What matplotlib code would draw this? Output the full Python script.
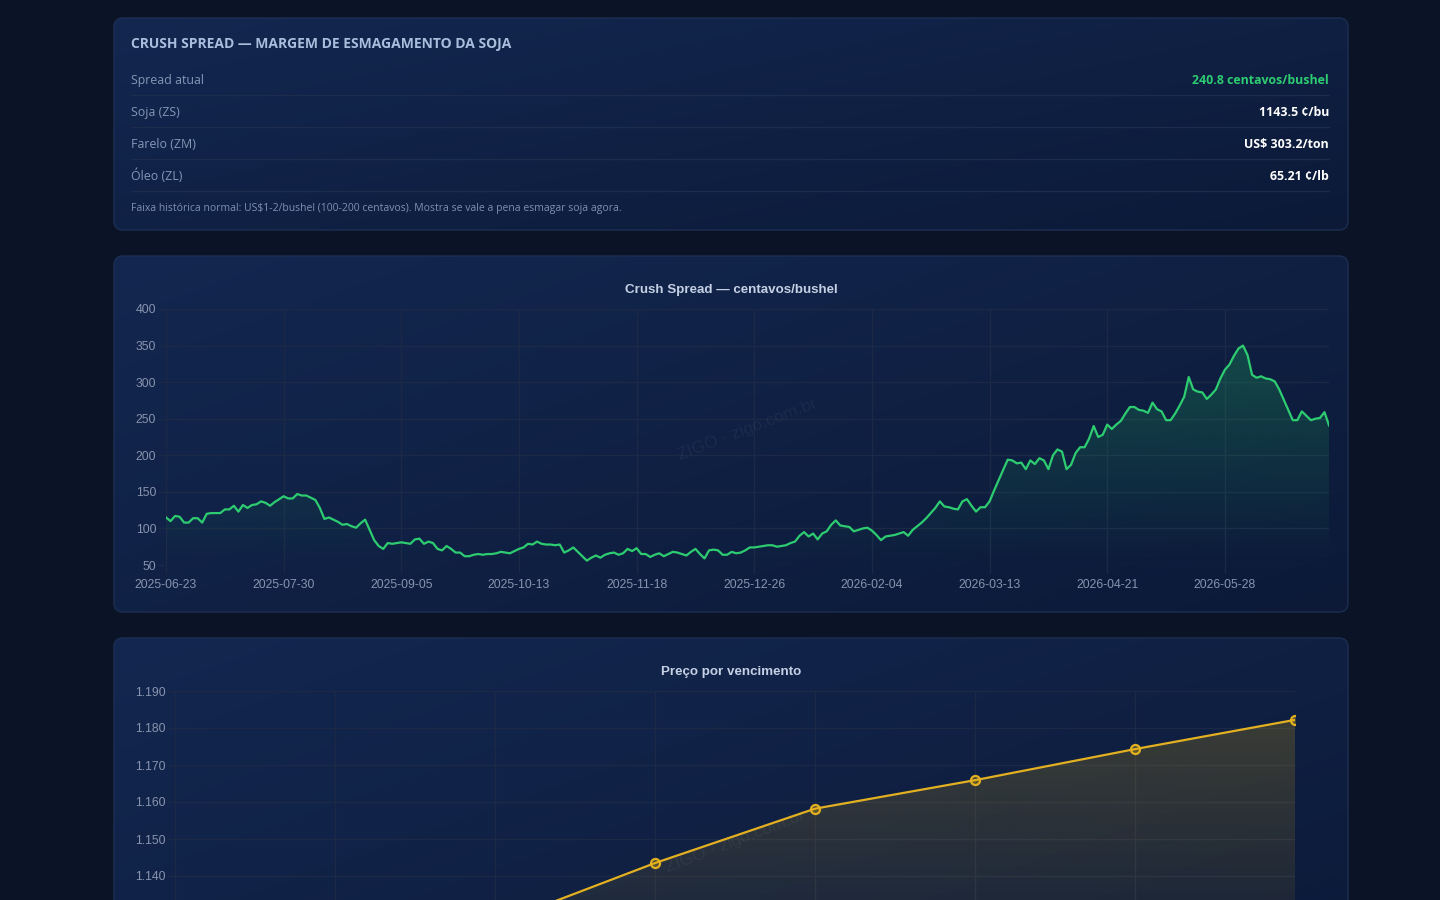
import numpy as np
import pandas as pd
import matplotlib
matplotlib.use("Agg")
import matplotlib.pyplot as plt
from matplotlib.patches import FancyBboxPatch, Polygon
from matplotlib.colors import to_rgba
from pandas.tseries.offsets import CustomBusinessDay

# ---------------- data ----------------
spread = [
    115, 110, 117, 116, 108, 108, 114, 114, 108, 120,
    121, 121, 121, 126, 126, 131, 123, 132, 128, 132,
    133, 137, 135, 131, 136, 140, 144, 141, 141, 147,
    145, 145, 142, 139, 128, 113, 115, 112, 109, 105,
    106, 103, 101, 107, 112, 98, 84, 76, 72, 80,
    79, 80, 81, 80, 79, 85, 86, 79, 82, 80,
    72, 70, 76, 72, 67, 67, 62, 62, 64, 65,
    64, 65, 65, 66, 68, 67, 66, 69, 72, 74,
    79, 78, 82, 79, 78, 78, 77, 78, 67, 70,
    74, 68, 62, 56, 60, 63, 60, 64, 66, 67,
    64, 66, 72, 69, 73, 65, 65, 61, 64, 66,
    62, 65, 68, 67, 65, 63, 68, 72, 65, 59,
    70, 71, 70, 64, 64, 68, 66, 67, 70, 74,
    74, 75, 76, 77, 77, 75, 76, 77, 80, 82,
    90, 95, 89, 93, 85, 93, 96, 105, 111, 104,
    103, 102, 96, 98, 100, 101, 97, 91, 84, 89,
    90, 91, 93, 95, 90, 98, 103, 108, 114, 121,
    128, 137, 130, 129, 127, 126, 137, 140, 131, 123,
    129, 129, 137, 152, 166, 180, 194, 193, 189, 190,
    181, 193, 188, 196, 193, 181, 200, 208, 205, 181,
    187, 203, 211, 211, 223, 240, 225, 228, 242, 236,
    242, 247, 257, 266, 266, 262, 261, 258, 272, 263,
    260, 248, 248, 257, 268, 280, 307, 290, 287, 286,
    277, 283, 290, 305, 317, 324, 336, 346, 350, 337,
    310, 306, 308, 305, 304, 301, 290, 276, 262, 248,
    248, 260, 254, 248, 250, 251, 259, 240.8,
]
cme_holidays = ['2025-07-04', '2025-09-01', '2025-11-27', '2025-12-25',
                '2026-01-01', '2026-01-19', '2026-02-16', '2026-04-03',
                '2026-05-25', '2026-06-19']
start_date = '2025-06-23'

maturities = ['Jul/25', 'Ago/25', 'Set/25', 'Nov/25', 'Jan/26', 'Mar/26', 'Mai/26', 'Jul/26']
maturity_prices = [1112.0, 1119.5, 1127.0, 1143.5, 1158.2, 1165.9, 1174.3, 1182.2]

info_labels = ['Spread atual', 'Soja (ZS)', 'Farelo (ZM)', 'Óleo (ZL)']
info_values = ['240.8 centavos/bushel', '1143.5 ¢/bu', 'US$ 303.2/ton', '65.21 ¢/lb']
info_colors = ['#2ecc71', '#ffffff', '#ffffff', '#ffffff']

dates = pd.date_range(start_date, periods=len(spread),
                      freq=CustomBusinessDay(holidays=cme_holidays)).strftime('%Y-%m-%d')

# ---------------- figure ----------------
W, H = 1440, 900
fig = plt.figure(figsize=(W / 100, H / 100), dpi=100)
fig.patch.set_facecolor('#0a1426')

bg = fig.add_axes([0, 0, 1, 1])
bg.set_zorder(0)
bg.axis('off')

SANS_UI = ['Open Sans', 'DejaVu Sans']
SANS_CH = ['Liberation Sans', 'DejaVu Sans']


def card(x0, y0, x1, y1):
    p = FancyBboxPatch((x0, y0), x1 - x0, y1 - y0,
                       boxstyle="round,pad=0,rounding_size=9",
                       fc='none', ec='#1c2e52', lw=1.0, zorder=3)
    bg.add_patch(p)
    nx, ny = 200, 100
    gx = np.linspace(0, 1, nx)[None, :]
    gy = np.linspace(0, 1, ny)[:, None]
    t = np.clip(0.55 * gx + 0.45 * gy, 0, 1)
    c0 = np.array(to_rgba('#132750'))
    c1 = np.array(to_rgba('#0c1a38'))
    img = c0[None, None, :] * (1 - t[..., None]) + c1[None, None, :] * t[..., None]
    im = bg.imshow(img, extent=(x0, x1, y1, y0), origin='upper',
                   aspect='auto', zorder=1, interpolation='bilinear')
    im.set_clip_path(p)


card(114, 18, 1348, 230)
card(114, 256, 1348, 612)
card(114, 638, 1348, 994)
bg.set_xlim(0, W)
bg.set_ylim(H, 0)

# ---------------- info card ----------------
bg.text(131, 44, 'CRUSH SPREAD — MARGEM DE ESMAGAMENTO DA SOJA', fontsize=10.0,
        fontweight='bold', color='#a9bddd', ha='left', va='center', family=SANS_UI, zorder=5)
row_y = [79, 111, 143, 175]
for lab, val, col, yy in zip(info_labels, info_values, info_colors, row_y):
    bg.text(131, yy + 4.6, lab, fontsize=8.9, color='#8597b6', ha='left', va='baseline',
            family=SANS_UI, zorder=5)
    bg.text(1329, yy + 4.6, val, fontsize=8.9, color=col, fontweight='bold', ha='right',
            va='baseline', family=SANS_UI, zorder=5)
    bg.plot([131, 1329], [yy + 16, yy + 16], color='#1b2c4c', lw=1, zorder=4)
bg.text(131, 208, 'Faixa histórica normal: US$1-2/bushel (100-200 centavos). Mostra se vale a pena esmagar soja agora.',
        fontsize=7.5, color='#7d90b3', ha='left', va='center', family=SANS_UI, zorder=5)

GRID = '#1b2947'
TICKC = '#8894ae'


def px_axes(x0, y0, x1, y1):
    ax = fig.add_axes([x0 / W, 1 - y1 / H, (x1 - x0) / W, (y1 - y0) / H])
    ax.set_facecolor('none')
    ax.set_zorder(2)
    for s in ax.spines.values():
        s.set_visible(False)
    ax.tick_params(colors=GRID, length=5.8, width=1, labelcolor=TICKC, labelsize=8.8)
    ax.tick_params(axis='x', pad=4.0)
    ax.tick_params(axis='y', pad=1.2)
    ax.grid(True, color=GRID, lw=1)
    ax.set_axisbelow(True)
    return ax


def gradient_fill(ax, x, y, base, color, a_top, a_bot, ytop):
    verts = [(x[0], base)] + list(zip(x, y)) + [(x[-1], base)]
    poly = Polygon(verts, closed=True, fc='none', ec='none')
    ax.add_patch(poly)
    n = 256
    alpha = np.linspace(a_top, a_bot, n)[:, None]
    rgb = np.array(to_rgba(color))[:3]
    img = np.zeros((n, 1, 4))
    img[..., :3] = rgb
    img[..., 3] = alpha
    im = ax.imshow(img, extent=(x[0], x[-1], base, ytop), origin='upper',
                   aspect='auto', zorder=1, interpolation='bilinear')
    im.set_clip_path(poly)


def title_at(y, text):
    bg.text(731, y, text, fontsize=9.6, fontweight='bold', color='#c5d0e4',
            ha='center', va='center', family=SANS_CH, zorder=5)


# ---------------- chart 1 ----------------
ax1 = px_axes(166, 309, 1329, 565)
xi = np.arange(len(spread))
gradient_fill(ax1, xi, np.array(spread, float), 50, '#22c55e', 0.30, 0.0, 400)
ax1.plot(xi, spread, color='#2ecc71', lw=1.6, zorder=3, solid_joinstyle='round')
ax1.set_xlim(0, len(spread) - 1)
ax1.set_ylim(50, 400)
ax1.set_yticks([50, 100, 150, 200, 250, 300, 350, 400])
tick_idx = list(range(0, len(spread), 26))
ax1.set_xticks(tick_idx)
ax1.set_xticklabels([dates[i] for i in tick_idx])
for lbl in ax1.get_xticklabels() + ax1.get_yticklabels():
    lbl.set_family(SANS_CH)
title_at(290, 'Crush Spread — centavos/bushel')
ax1.text(0.5, 0.53, 'ZIGO · zigo.com.br', transform=ax1.transAxes, rotation=21,
         ha='center', va='center', fontsize=12.5, color='#ffffff', alpha=0.05,
         family=SANS_CH, zorder=2)

# ---------------- chart 2 ----------------
ax2 = px_axes(175, 691, 1295, 987)
xm = np.arange(len(maturities))
gradient_fill(ax2, xm, np.array(maturity_prices), 1110, '#eab308', 0.22, 0.02, 1190)
ax2.plot(xm, maturity_prices, color='#e3b021', lw=1.6, zorder=3, marker='o',
         ms=6.5, mfc=to_rgba('#eab308', 0.25), mec='#e3b021', mew=1.6)
ax2.set_xlim(0, len(maturities) - 1)
ax2.set_ylim(1110, 1190)
yt2 = np.arange(1110, 1191, 10)
ax2.set_yticks(yt2)
# labels below 1.140 fall under the visible page edge
ax2.set_yticklabels([f'1.{int(v) - 1000:03d}' if v >= 1140 else '' for v in yt2])
# category positions (their labels fall below the visible page area)
ax2.set_xticks(xm)
ax2.set_xticklabels([''] * len(maturities))
for lbl in ax2.get_yticklabels():
    lbl.set_family(SANS_CH)
title_at(672, 'Preço por vencimento')
ax2.text(0.5, 0.49, 'ZIGO · zigo.com.br', transform=ax2.transAxes, rotation=21,
         ha='center', va='center', fontsize=12.5, color='#ffffff', alpha=0.05,
         family=SANS_CH, zorder=2)

fig.savefig('out.png', dpi=100, facecolor=fig.get_facecolor())
